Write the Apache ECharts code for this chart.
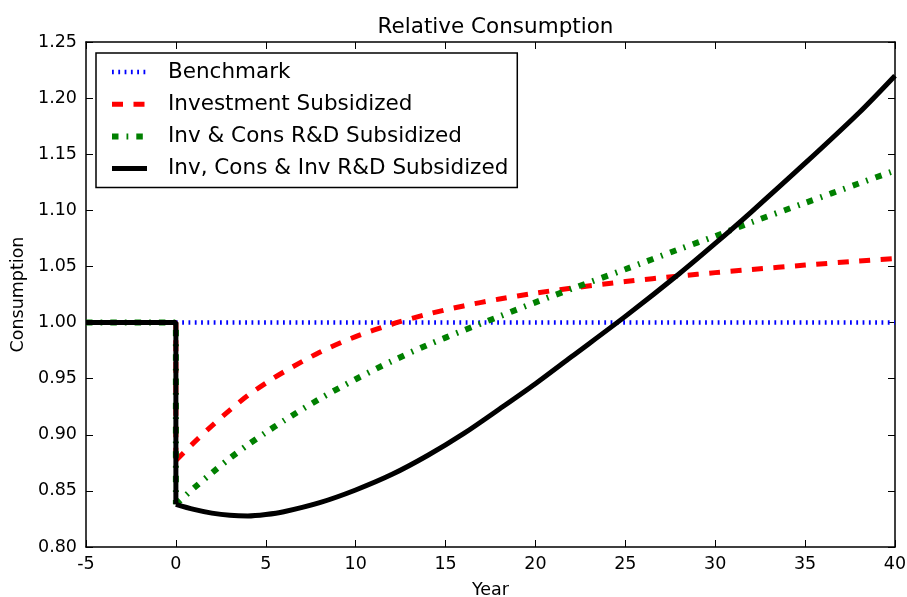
<!DOCTYPE html>
<html>
<head>
<meta charset="utf-8">
<script src="https://cdn.jsdelivr.net/npm/echarts@6/dist/echarts.min.js"></script>
<style>
  html, body { margin: 0; padding: 0; background: #fff; }
  #chart { width: 907px; height: 597px; }
</style>
</head>
<body>
<div id="chart"></div>
<script>
// Years relative to the policy change; the path is flat at 1 until year 0
const preYears = [-5, 0];
const preLevel = [1, 1];
const years = [0, 1, 2, 3, 4, 5, 6, 8, 10, 12, 14, 16, 18, 20, 22, 25, 28, 30, 32, 35, 38, 40];

// Consumption relative to the benchmark path, from year 0 on
const benchmark = [1, 1, 1, 1, 1, 1, 1, 1, 1, 1, 1, 1, 1, 1, 1, 1, 1, 1, 1, 1, 1, 1];
const investmentSubsidized = [0.877, 0.893, 0.908, 0.922, 0.935, 0.946, 0.956, 0.9735, 0.9875, 0.9985, 1.0075, 1.0148, 1.021, 1.0262, 1.0307, 1.0365, 1.0415, 1.0445, 1.0473, 1.0512, 1.0548, 1.057];
const invConsRD = [0.838, 0.8525, 0.866, 0.879, 0.891, 0.902, 0.9125, 0.932, 0.9495, 0.9655, 0.980, 0.993, 1.0055, 1.018, 1.030, 1.0475, 1.0654, 1.077, 1.0893, 1.1066, 1.124, 1.1355];
const invConsInvRD = [0.838, 0.8335, 0.8302, 0.8282, 0.8276, 0.8289, 0.8314, 0.8395, 0.8508, 0.8645, 0.8815, 0.901, 0.923, 0.9455, 0.9695, 1.0055, 1.0435, 1.0705, 1.0985, 1.142, 1.187, 1.220];

const seriesNames = ['Benchmark', 'Investment Subsidized', 'Inv & Cons R&D Subsidized', 'Inv, Cons & Inv R&D Subsidized'];

const xTicks = { min: -5, max: 40, step: 5 };
const yTicks = { min: 0.80, max: 1.25, step: 0.05 };

// pre-period plus the drop at year 0 (drawn straight)
const stepPart = vals => preYears.map((y, i) => [y, preLevel[i]]).concat([[years[0], vals[0]]]);
// post-period (drawn smooth)
const pathPart = vals => years.map((y, i) => [y, vals[i]]);

const FONT = 'DejaVu Sans';
const axisCommon = {
  type: 'value',
  axisLine: { show: true, onZero: false, lineStyle: { color: '#000', width: 1.5 } },
  axisTick: { show: true, inside: true, length: 7, lineStyle: { color: '#000', width: 1 } },
  splitLine: { show: false },
};

const styles = [
  { color: '#0000ff', width: 4.5, type: [1.8, 4.5], cap: 'butt' },
  { color: '#ff0000', width: 5, type: [11, 10.5], cap: 'butt' },
  { color: '#008000', width: 6, type: [6.5, 8, 1.8, 8], cap: 'butt' },
  { color: '#000000', width: 5, type: 'solid' }
];
const values = [benchmark, investmentSubsidized, invConsRD, invConsInvRD];

const series = [];
values.forEach((vals, k) => {
  const common = {
    name: seriesNames[k], type: 'line', showSymbol: false, symbol: 'none',
    lineStyle: styles[k], itemStyle: { color: styles[k].color }, z: 2 + k
  };
  series.push(Object.assign({}, common, { data: pathPart(vals), smooth: k === 0 ? false : 0.3 }));
  series.push(Object.assign({}, common, { data: stepPart(vals), smooth: false }));
});

const chart = echarts.init(document.getElementById('chart'), null, { renderer: 'canvas' });
chart.setOption({
  backgroundColor: '#fff',
  animation: false,
  title: {
    text: 'Relative Consumption',
    left: 490.5,
    textAlign: 'center',
    top: 11,
    textStyle: { fontFamily: FONT, fontSize: 21.5, fontWeight: 'normal', color: '#000' }
  },
  grid: { left: 86, right: 12, top: 42, bottom: 50, containLabel: false, outerBoundsMode: 'none' },
  legend: {
    orient: 'vertical',
    left: 96,
    top: 53,
    padding: [7, 9, 7, 13],
    itemGap: 8.2,
    itemWidth: 35,
    itemHeight: 14,
    borderColor: '#000',
    borderWidth: 1.5,
    backgroundColor: '#fff',
    itemStyle: { opacity: 0, borderWidth: 0 },
    textStyle: { fontFamily: FONT, fontSize: 21.5, color: '#000', lineHeight: 24, padding: [0, 0, 0, 16] },
    data: seriesNames.map((n, k) => ({ name: n, lineStyle: Object.assign({}, styles[k]) }))
  },
  xAxis: [
    Object.assign({}, axisCommon, {
      position: 'bottom',
      min: xTicks.min, max: xTicks.max, interval: xTicks.step,
      name: 'Year', nameLocation: 'middle', nameGap: 34,
      nameTextStyle: { fontFamily: FONT, fontSize: 17.5, color: '#000' },
      axisLabel: { fontFamily: FONT, fontSize: 17.5, color: '#000', margin: 8 }
    }),
    Object.assign({}, axisCommon, {
      position: 'top',
      min: xTicks.min, max: xTicks.max, interval: xTicks.step,
      axisLabel: { show: false }
    })
  ],
  yAxis: [
    Object.assign({}, axisCommon, {
      position: 'left',
      min: yTicks.min, max: yTicks.max, interval: yTicks.step,
      name: 'Consumption', nameLocation: 'middle', nameGap: 56,
      nameTextStyle: { fontFamily: FONT, fontSize: 17.5, color: '#000' },
      axisLabel: { fontFamily: FONT, fontSize: 17.5, color: '#000', margin: 9,
        formatter: v => v.toFixed(2) }
    }),
    Object.assign({}, axisCommon, {
      position: 'right',
      min: yTicks.min, max: yTicks.max, interval: yTicks.step,
      axisLabel: { show: false }
    })
  ],
  series: series
});
</script>
</body>
</html>
